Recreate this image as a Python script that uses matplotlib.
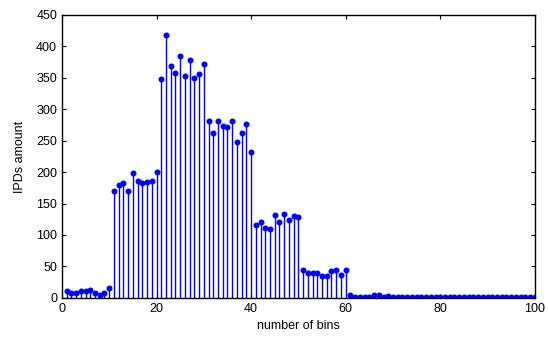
import numpy as np
import matplotlib.pyplot as plt

plt.rcParams['font.family'] = ['Liberation Sans', 'DejaVu Sans']

# bin index 1..100
bins = np.arange(1, 101)
# IPD counts per bin
counts = [11, 8, 8, 11, 11, 12, 8, 4, 8, 16,
          170, 179, 182, 170, 198, 186, 182, 185, 186, 200,
          348, 418, 369, 358, 384, 353, 378, 350, 356, 372,
          281, 263, 282, 273, 271, 282, 248, 262, 276, 232,
          116, 121, 111, 109, 131, 121, 133, 124, 130, 128,
          45, 39, 39, 39, 34, 34, 42, 45, 36, 45,
          5, 1, 1, 2, 2, 4, 4, 2, 3, 1,
          1, 1, 2, 1, 2, 1, 1, 2, 1, 1,
          2, 1, 1, 1, 1, 2, 2, 1, 1, 1,
          2, 1, 1, 2, 1, 1, 1, 1, 2, 1]

fig = plt.figure(figsize=(5.48, 3.40), dpi=100)
ax = fig.add_axes([0.113, 0.124, 0.863, 0.832])

# stem plot, matlab-ish
ml, sl, bl = ax.stem(bins, counts, linefmt='b-', markerfmt='bo', basefmt=' ')
plt.setp(sl, linewidth=1.0, color='#0000ff')
plt.setp(ml, markersize=3.3, color='#0000ff')

ax.set_xlim(0, 100)
ax.set_ylim(0, 450)
ax.set_xticks(np.arange(0, 101, 20))
ax.set_yticks(np.arange(0, 451, 50))
ax.tick_params(direction='in', top=True, right=True, labelsize=9, length=3)
for s in ax.spines.values():
    s.set_linewidth(1.0)
ax.set_xlabel('number of bins', fontsize=9, labelpad=4)
ax.set_ylabel('IPDs amount', fontsize=9, labelpad=7)

fig.savefig('out.png', dpi=100)
